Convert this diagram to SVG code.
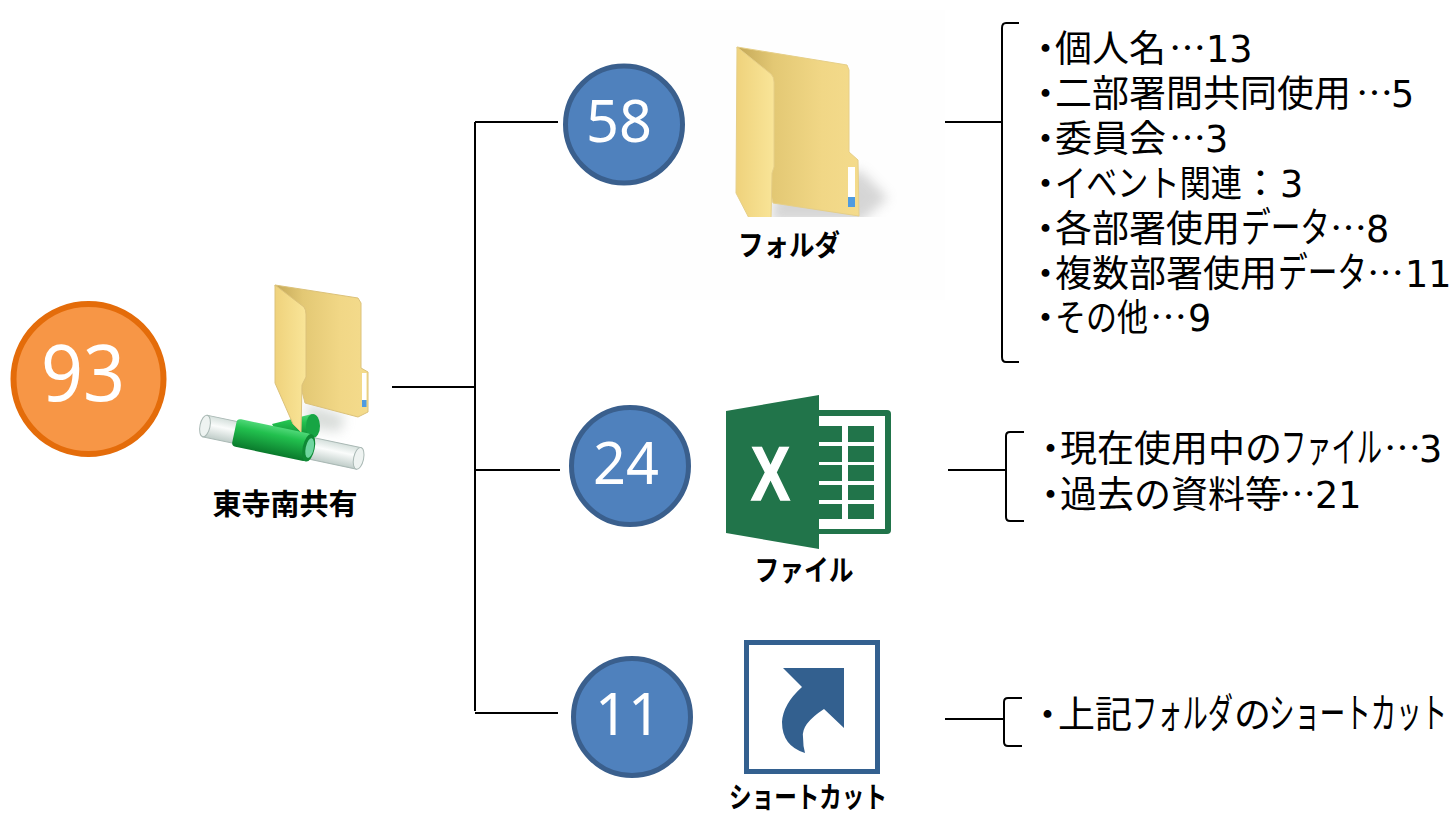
<svg xmlns="http://www.w3.org/2000/svg" width="1453" height="813" viewBox="0 0 1453 813">
<style>
text{font-family:"Noto Sans CJK JP","DejaVu Sans",sans-serif;fill:#000}
.t{font-size:37px}
.k{font-size:41px}
.n{font-family:"DejaVu Sans",sans-serif;font-size:36.500px}
.l{font-size:29px;font-weight:700;text-anchor:middle}
.c{font-family:"Noto Sans",sans-serif;fill:#fff;font-size:58px}
.b{fill:#4f81bd;stroke:#3a5f8d;stroke-width:5}
.w{fill:none;stroke:#000;stroke-width:2}
</style>
<defs>
<linearGradient id="back" x1="0" y1="0" x2="1" y2="0"><stop offset="0" stop-color="#c4a858"/><stop offset=".3" stop-color="#e3c874"/><stop offset=".7" stop-color="#f1d786"/><stop offset="1" stop-color="#f4db8c"/></linearGradient>
<linearGradient id="front" x1="0" y1="0" x2="1" y2="0"><stop offset="0" stop-color="#efd27c"/><stop offset="1" stop-color="#f9e598"/></linearGradient>
<linearGradient id="green" x1="0" y1="0" x2="0" y2="1"><stop offset="0" stop-color="#4fd878"/><stop offset=".3" stop-color="#22c04e"/><stop offset="1" stop-color="#0a7a2c"/></linearGradient>
<linearGradient id="glass" x1="0" y1="0" x2="0" y2="1"><stop offset="0" stop-color="#d5e0dc"/><stop offset=".4" stop-color="#fafcfb"/><stop offset="1" stop-color="#c0cdc9"/></linearGradient>
<filter id="blur" x="-30%" y="-30%" width="160%" height="160%"><feGaussianBlur stdDeviation="6"/></filter>
<clipPath id="clipF"><rect x="640" y="30" width="300" height="187"/></clipPath>
</defs>
<g id="connectors" class="w">
<path d="M392 387H475M475 122V711M475 122H558M475 470H560M475 713H558"/>
<path d="M945 122H1002M1019 23H1006Q1002 23 1002 28V357Q1002 362 1006 362H1019"/>
<path d="M948 470H1006M1024 432H1010Q1006 432 1006 436V517Q1006 521 1010 521H1024"/>
<path d="M945 719H1004M1022 698H1008Q1004 698 1004 702V742Q1004 746 1008 746H1022"/>
</g>
<g id="node-total">
<circle cx="88.500" cy="379" r="75" fill="#f79646" stroke="#e46c0a" stroke-width="6"/>
<text class="c" x="41" y="401" style="font-size:78px" textLength="84" lengthAdjust="spacingAndGlyphs">93</text>
</g>
<g id="node-share">
<path d="M305 403L345 416L340 432L310 428Z" fill="#c9cfcb" opacity=".7" filter="url(#blur)"/>
<path d="M272 424L312 414L316 437L282 442Z" fill="url(#green)"/>
<ellipse cx="313" cy="426" rx="7" ry="12" fill="#17a544"/>
<path d="M275 285L358 298L361 303V368L368 372V412L358 417L305 403Z" fill="url(#back)" stroke="#dcc27a"/>
<rect x="362" y="373" width="4.500" height="27" fill="#fff"/><rect x="362" y="400" width="4.500" height="7" fill="#4f9be0"/>
<g transform="translate(205 426) rotate(11.900)">
<rect x="0" y="-11" width="157" height="22" fill="url(#glass)" stroke="#a9b8b4"/>
<ellipse cx="0" cy="0" rx="5" ry="11" fill="#eef3f1" stroke="#a9b8b4"/>
<ellipse cx="157" cy="0" rx="5" ry="11" fill="#eef3f1" stroke="#a9b8b4"/>
<rect x="30" y="-14" width="76" height="28" rx="4" fill="url(#green)"/>
<ellipse cx="106" cy="0" rx="6" ry="14" fill="#0f8a35"/>
<ellipse cx="107" cy="0" rx="4" ry="10" fill="#6fd6a0"/>
</g>
<path d="M275 285L304 307Q306 310 306 314V377L302 385L301 432L293 424L275 383Z" fill="url(#front)" stroke="#dcc27a"/>
<text class="l" x="285" y="515">東寺南共有</text>
</g>
<g id="node-folders">
<rect x="650" y="10" width="295" height="290" fill="#fefefe"/>
<g clip-path="url(#clipF)">
<path d="M775 195L860 170L888 198L860 222H770Z" fill="#a5a5a5" opacity=".45" filter="url(#blur)"/>
<path d="M737 47L847 65L849 70V152L858 160L859 216L773 203Z" fill="url(#back)" stroke="#e6cf88"/>
<rect x="848" y="167" width="7" height="30" fill="#fff"/><rect x="848" y="197" width="7" height="10" fill="#4f9be0"/>
<path d="M737 47L771 74Q774 77 774 82V167L772 173L771 220H750L736 193Z" fill="url(#front)" stroke="#e6cf88"/>
</g>
<text class="l" x="789" y="256" textLength="102" lengthAdjust="spacingAndGlyphs">フォルダ</text>
</g>
<g id="node-58"><circle class="b" cx="624" cy="124.500" r="58.500"/><text class="c" x="586" y="142" textLength="66" lengthAdjust="spacingAndGlyphs">58</text></g>
<g id="node-files">
<path d="M819 410H887Q891 410 891 414V530Q891 534 887 534H819Z" fill="#21744a"/>
<rect x="819" y="416" width="66" height="113" fill="#fff"/>
<path fill="#21744a" d="M819 426h23v16h-23zM848 426h26v16h-26zM819 446h23v16h-23zM848 446h26v16h-26zM819 465h23v16h-23zM848 465h26v16h-26zM819 485h23v15h-23zM848 485h26v15h-26zM819 504h23v15h-23zM848 504h26v15h-26z"/>
<path d="M726 411L819 395V549L726 533Z" fill="#21744a"/>
<text x="751" y="500" font-size="76" font-weight="700" textLength="39" lengthAdjust="spacingAndGlyphs" style="font-family:'Liberation Sans',sans-serif;fill:#fff;stroke:#fff;stroke-width:1.500">X</text>
<text class="l" x="804" y="581" textLength="99" lengthAdjust="spacingAndGlyphs">ファイル</text>
</g>
<g id="node-24"><circle class="b" cx="630" cy="466" r="58.500"/><text class="c" x="593" y="484" textLength="66" lengthAdjust="spacingAndGlyphs">24</text></g>
<g id="node-shortcut">
<rect x="746.500" y="642.500" width="131" height="129" fill="#fff" stroke="#33608f" stroke-width="5"/>
<path d="M783 668H844V728L824 709Q801 724 803 737Q803 746 805 753Q782 746 782 722Q783 704 802 687Z" fill="#33608f"/>
<text class="l" x="808" y="808" textLength="158" lengthAdjust="spacingAndGlyphs">ショートカット</text>
</g>
<g id="node-11"><circle class="b" cx="632" cy="717" r="58.500"/><text class="c" x="595" y="735" textLength="66" lengthAdjust="spacingAndGlyphs">11</text></g>
<g id="list-folders" class="t">
<text y="62"><tspan x="1027">・</tspan><tspan x="1055">個人名</tspan><tspan x="1169">…</tspan><tspan x="1206" class="n">13</tspan></text>
<text y="107"><tspan x="1027">・</tspan><tspan x="1055">二部署間共同使用</tspan><tspan x="1356">…</tspan><tspan x="1391" class="n">5</tspan></text>
<text y="152"><tspan x="1027">・</tspan><tspan x="1055">委員会</tspan><tspan x="1169">…</tspan><tspan x="1205" class="n">3</tspan></text>
<text y="197"><tspan x="1027">・</tspan><tspan x="1055" textLength="187" lengthAdjust="spacingAndGlyphs">イベント関連</tspan><tspan x="1242">：</tspan><tspan x="1280" class="n">3</tspan></text>
<text y="242"><tspan x="1027">・</tspan><tspan x="1055">各部署使用</tspan><tspan x="1241" class="k" textLength="89" lengthAdjust="spacingAndGlyphs">データ</tspan><tspan x="1330">…</tspan><tspan x="1366" class="n">8</tspan></text>
<text y="287"><tspan x="1027">・</tspan><tspan x="1055">複数部署使用</tspan><tspan x="1278" class="k" textLength="89" lengthAdjust="spacingAndGlyphs">データ</tspan><tspan x="1367">…</tspan><tspan x="1405" class="n">11</tspan></text>
<text y="331"><tspan x="1027">・</tspan><tspan x="1055" textLength="93" lengthAdjust="spacingAndGlyphs">その他</tspan><tspan x="1150">…</tspan><tspan x="1188" class="n">9</tspan></text>
</g>
<g id="list-files" class="t">
<text y="462"><tspan x="1032">・</tspan><tspan x="1060">現在使用中の</tspan><tspan x="1281" class="k" textLength="101" lengthAdjust="spacingAndGlyphs">ファイル</tspan><tspan x="1384">…</tspan><tspan x="1419" class="n">3</tspan></text>
<text y="508"><tspan x="1032">・</tspan><tspan x="1060">過去の資料等</tspan><tspan x="1279">…</tspan><tspan x="1315" class="n">21</tspan></text>
</g>
<g id="list-shortcut" class="t">
<text y="728"><tspan x="1029">・</tspan><tspan x="1058">上記</tspan><tspan x="1132" class="k" textLength="101" lengthAdjust="spacingAndGlyphs">フォルダ</tspan><tspan x="1234">の</tspan><tspan x="1269" class="k" textLength="178" lengthAdjust="spacingAndGlyphs">ショートカット</tspan></text>
</g>
</svg>
